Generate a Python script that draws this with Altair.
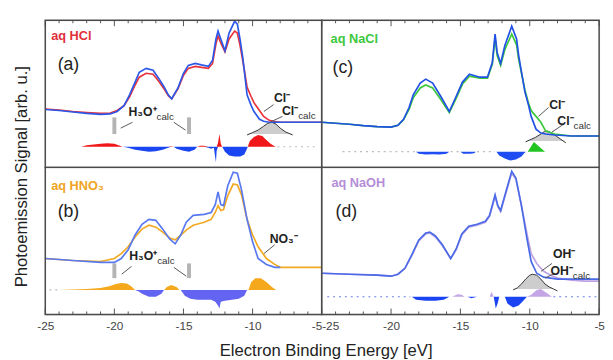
import altair as alt
import pandas as pd

FONT = "Liberation Sans"

# ---------------- panel (a) aq HCl ----------------
E_a = [-25, -24, -23, -22, -21, -20.3, -19.8, -19.3, -18.9, -18.5, -18.2, -17.7, -17.2, -16.8, -16.4, -16.1,
       -15.85, -15.4, -15.0, -14.65, -14.15, -13.7, -13.2, -12.9, -12.65, -12.5, -12.3, -12.0, -11.7, -11.3,
       -11.1, -10.9, -10.7, -10.4, -10.1, -9.9, -9.5, -9.2, -8.8, -8.5, -8.0, -7.0, -6.0, -5.0]
water_a = [59, 58, 56.5, 55, 54, 54.5, 57, 63, 74, 87, 97, 101, 99, 91, 82, 74, 70, 81, 96, 104, 106, 104.5,
           103, 109, 131, 139, 131, 119, 137, 149, 146, 130, 111, 74, 63, 57, 49, 47, 46, 46, 46, 46, 46, 46]
sol_a = [59.5, 58.5, 57, 56, 55, 55.5, 58, 63, 72, 84, 92, 96, 95, 88, 80, 73, 70, 80, 94, 101, 103, 102,
         101, 106, 126, 134, 127, 118, 131, 139, 137, 124, 108, 82, 72, 66, 58, 52, 48, 47, 46, 46, 46, 46]
diffE_a = [-22.4, -22, -21, -20.5, -20, -19.6, -19.4, -19.0, -18.5, -18, -17.5, -17, -16.5, -16.1, -15.9,
           -15.7, -15.5, -15, -14.6, -14.2, -14.0, -13.8, -13.5, -13.2, -13.0, -12.8, -12.75, -12.65, -12.6,
           -12.5, -12.4, -12.3, -12.2, -12.0, -11.7, -11.3, -10.9, -10.6, -10.4, -10.35, -10.2, -9.9, -9.6,
           -9.3, -9.0, -8.7, -8.4, -8.3]
diff_a = [0, 1.5, 3, 3.5, 3, 1, 0, -1, -3, -4, -5, -4.5, -3, -1, 0.5, 0, -2, -4, -5, -3, 0, 1, 1, -1, -2,
          -1, -6, -16, -4, 4, 13, 3, 0, -5, -9, -10, -10, -8, -2, 0, 6, 10, 12, 11, 7, 3, 0.5, 0]
base_a = 21
calcE_a = [-10.4, -10.0, -9.6, -9.2, -8.9, -8.6, -8.3, -8.0, -7.6, -7.1]
calc_a = [-1, 1.5, 4, 8, 11, 12, 10, 6, 2, -1]
calcbase_a = 34

# ---------------- panel (b) aq HNO3 ----------------
E_b = [-25, -23, -21, -20, -19.5, -19, -18.5, -18, -17.5, -17, -16.5, -16, -15.6, -15.2, -14.8, -14.3,
       -13.5, -13.0, -12.7, -12.5, -12.3, -12.1, -11.8, -11.4, -11.1, -10.8, -10.4, -10.0, -9.6, -9.0,
       -8.4, -8.0, -7.0, -6.0, -5.0]
water_b = [57, 55, 53, 53, 57, 66, 81, 92, 97, 96, 87, 77, 72, 81, 94, 101, 102, 104, 112, 125, 112, 111,
           131, 145, 144, 127, 97, 74, 57, 51, 48, 48, None, None, None]
sol_b = [57, 55, 54, 57, 62, 69, 79, 87, 91, 89, 84, 78, 76, 81, 86, 91, 94, 97, 104, 111, 106, 107, 121,
         133, 132, 122, 97, 81, 69, 57, 51, 48, 48, 48, 48]
diffE_b = [-24.0, -23, -22, -21, -20.3, -19.9, -19.5, -19.1, -18.8, -18.5, -18.2, -18, -17.5, -17, -16.6,
           -16.4, -16.2, -15.9, -15.5, -15.3, -15.2, -14.9, -14.5, -14, -13.5, -13.0, -12.7, -12.5, -12.4,
           -12.3, -12.0, -11.5, -11.0, -10.6, -10.4, -10.3, -10.1, -9.8, -9.4, -9.0, -8.6, -8.3]
diff_b = [0, 0.5, 1, 2, 4, 6, 7, 6.5, 4, 0, -2, -4, -7, -7, -4, 0, 3, 5, 3, 0, 0, -6, -9, -10, -10, -10,
          -12, -16, -19, -12, -11, -10, -9, -6, 0, 0, 8, 12, 12, 8, 3, 0]
base_b = 25

# ---------------- panel (c) aq NaCl ----------------
E_c = [-25, -24, -23, -22, -21, -20, -19.5, -19.1, -18.7, -18.4, -17.9, -17.5, -17.0, -16.4, -15.8, -15.35,
       -14.85, -14.35, -13.6, -13.05, -12.7, -12.5, -12.35, -12.1, -11.8, -11.3, -10.95, -10.8, -10.35,
       -10.1, -9.9, -9.55, -9.2, -8.85, -8.2, -7, -6, -5]
water_c = [46, 45, 44, 42.5, 41.5, 41, 43, 49, 61, 74, 86, 90, 86, 72, 57, 71, 87, 95, 92, 92, 107, 136, 117,
           106, 124, 144, 131, 114, 77, 64, 52, 39, 35, 34, 33, 32, 32, 32]
sol_c = [46, 45, 44, 42.5, 41.5, 41, 43, 48.5, 59, 71, 81, 84, 81, 69, 56, 69, 85, 93, 91, 91, 105, 132, 114,
         104, 120, 136, 125, 110, 79, 66, 58, 52, 46, 37, 34, 32, 32, 32]
diffE_c = [-18.2, -18.0, -17.5, -17.0, -16.5, -16.0, -15.8, -15.0, -14.8, -14.3, -14.0, -13.9, -12.4, -12.2,
           -11.8, -11.4, -11.0, -10.6, -10.3, -10.15, -9.7, -8.9]
diff_c = [0, -2, -3, -2.5, -3, -2, 0, 0, -2, -2, -1.5, 0, 0, -4, -7, -9, -8, -5, 0, 0, 10, 0]
base_c = 16
calcE_c = [-10.3, -10.0, -9.6, -9.2, -8.95, -8.7, -8.4, -8.1, -7.8, -7.4]
calc_c = [-1, 1, 3.5, 7, 9.5, 10, 8, 5, 2, -2]
calcbase_c = 27

# ---------------- panel (d) aq NaOH ----------------
E_d = [-25, -23, -21, -20, -19.5, -19, -18.5, -18, -17.5, -17.2, -16.8, -16.3, -15.7, -15.3, -14.9, -14.4,
       -13.8, -13.2, -12.9, -12.5, -12.3, -12.1, -11.8, -11.3, -11.0, -10.6, -10.2, -9.9, -9.5, -9.0, -8.5,
       -8.0, -7.0, -6.0, -5.0]
water_d = [42, 41, 40, 39, 41, 47, 61, 76, 83, 84, 80, 71, 57, 67, 82, 90, 92, 95, 101, 122, 111, 106, 121,
           146, 139, 111, 77, 54, 42, 38, 37, 36, 36, 36, 36]
sol_d = [42, 41, 40, 39, 41, 47, 60, 75, 82, 83, 79, 70, 57, 66, 81, 89, 91, 94, 100, 120, 110, 105, 120,
         144, 138, 111, 82, 62, 52, 44, 40, 37, 35, 34, 34]
diffE_d = [-18.5, -18.2, -17.5, -16.8, -16.2, -15.8, -15.6, -15.2, -14.9, -14.7, -14.5, -14.2, -13.8, -12.9,
           -12.75, -12.6, -12.45, -12.3, -12.2, -11.8, -11.6, -11.2, -10.8, -10.4, -10.2, -9.9, -9.5, -9.2,
           -8.8, -8.4]
diff_d = [0, -3, -4, -4, -3, 0, 0, 2.5, 2, 0, 0, -1.5, 0, 0, 5, 0, -12, -6, 0, 0, -7, -11, -9, -3, 0, 2, 7,
          8, 4, 0]
base_d = 18
calcE_d = [-11.2, -10.9, -10.6, -10.3, -10.0, -9.8, -9.5, -9.2, -8.9, -8.6, -8.3, -8.0]
calc_d = [-1, 1, 5, 10, 14, 15, 14, 10, 5, 2, 0, -2]
calcbase_d = 26

# faint (noisy, near-zero) stretches of the difference traces: (start, end)
faint_a = [(-8.2, -5.3)]
faint_b = [(-24.7, -24.1)]
faint_c = [(-23.5, -18.3), (-15.7, -15.1), (-13.8, -12.5)]
faint_d = [(-24.6, -18.6), (-8.3, -5.2)]

# H3O+ calc markers
barE = [-20.0, -14.6]

# tick positions and labels
major_ticks = [-25, -20, -15, -10, -5]
minor_ticks = [-24, -23, -22, -21, -19, -18, -17, -16, -14, -13, -12, -11, -9, -8, -7, -6]

XS = alt.Scale(domain=[-25, -5], nice=False, zero=False)
YS = alt.Scale(domain=[0, 150], nice=False, zero=False)
H = 150


def make_panel(p):
    top, left = p["top"], p["left"]
    width = 282 if left else 283
    if top:
        xaxis = None
    else:
        xaxis = alt.Axis(
            values=major_ticks, labelExpr="'-' + abs(datum.value)", ticks=False, domain=False, grid=False,
            labelPadding=6, labelFontSize=12, labelFont=FONT, labelColor="#444", labelFlush=False,
            labelOverlap=False,
            labelAlign={"condition": {"test": "datum.value == -5" if left else "datum.value == -25",
                                      "value": "right" if left else "left"}, "value": "center"},
            title="Electron Binding Energy [eV]" if left else None,
            titleFont=FONT, titleFontSize=17, titleFontWeight="normal", titleColor="#222",
            titleX=286, titleY=37, titleBaseline="middle", titleAlign="center",
        )
    if top and left:
        yaxis = alt.Axis(labels=False, ticks=False, domain=False, grid=False,
                         title="Photoemission Signal [arb. u.]", titleFont=FONT, titleFontSize=17,
                         titleFontWeight="normal", titleColor="#222", titleX=-24, titleY=159,
                         titleAngle=-90, titleBaseline="middle", titleAlign="center")
    else:
        yaxis = None

    X = alt.X("E:Q", scale=XS, axis=xaxis)

    def Y(f):
        return alt.Y(f + ":Q", scale=YS, axis=yaxis)

    layers = []
    # faint dotted parts of the difference trace
    fd = pd.DataFrame(p["faint"], columns=["E", "E2"])
    fd["base"] = p["base"]
    layers.append(alt.Chart(fd).mark_rule(color=p["faint_color"], strokeWidth=1.2, strokeDash=[2, 4]).encode(
        x=X, x2=alt.X2("E2:Q"), y=Y("base")))
    # difference spectrum
    dd = pd.DataFrame({"E": p["diffE"], "d": p["diff"]})
    dd["base"] = p["base"]
    dd["pos"] = p["base"] + dd["d"].clip(lower=0)
    dd["neg"] = p["base"] + dd["d"].clip(upper=0)
    layers.append(alt.Chart(dd).mark_area(color=p["neg_color"], opacity=1).encode(
        x=X, y=Y("neg"), y2=alt.Y2("base:Q")))
    layers.append(alt.Chart(dd).mark_area(color=p["pos_color"], opacity=1).encode(
        x=X, y=Y("pos"), y2=alt.Y2("base:Q")))
    # calculated anion peak
    if p.get("calcE"):
        cd = pd.DataFrame({"E": p["calcE"], "c": p["calc"]})
        cd["base"] = p["calcbase"]
        cd["cpos"] = p["calcbase"] + cd["c"].clip(lower=0)
        cd["cval"] = p["calcbase"] + cd["c"]
        layers.append(alt.Chart(cd).mark_area(color="#cdcdcd").encode(x=X, y=Y("cpos"), y2=alt.Y2("base:Q")))
        layers.append(alt.Chart(cd).mark_line(color="#333", strokeWidth=1).encode(x=X, y=Y("cval")))
    # H3O+ calc markers
    if p.get("bars"):
        bd = pd.DataFrame({"E": barE, "v1": p["bars"][0], "v2": p["bars"][1]})
        layers.append(alt.Chart(bd).mark_rule(color="#b4b4b4", strokeWidth=4).encode(
            x=X, y=Y("v1"), y2=alt.Y2("v2:Q")))
    # spectra
    sd = pd.DataFrame({"E": p["E"], "water": p["water"], "sol": p["sol"]})
    layers.append(alt.Chart(sd).mark_line(color=p["sol_color"], strokeWidth=1.7).encode(x=X, y=Y("sol")))
    layers.append(alt.Chart(sd).mark_line(color=p["water_color"], strokeWidth=1.7).encode(x=X, y=Y("water")))
    # leader lines
    ld = pd.DataFrame(p["leaders"], columns=["E", "v", "E2", "v2"])
    layers.append(alt.Chart(ld).mark_rule(color="#555", strokeWidth=1).encode(
        x=X, x2=alt.X2("E2:Q"), y=Y("v"), y2=alt.Y2("v2:Q")))
    # annotation texts
    for rows, align, size, weight, color in [
        (p["ann_left"], "left", 12.5, "bold", "#222"),
        (p["ann_right"], "right", 12.5, "bold", "#222"),
        (p["ann_sub"], "left", 10, "normal", "#333"),
        (p["letter"], "left", 18, "normal", "#222"),
        (p["label"], "left", 13, "bold", p["label_color"]),
    ]:
        if rows:
            td = pd.DataFrame(rows, columns=["text", "E", "v"])
            layers.append(alt.Chart(td).mark_text(align=align, baseline="middle", font=FONT, fontSize=size,
                                                  fontWeight=weight, color=color).encode(
                x=X, y=Y("v"), text="text:N"))
    # inward ticks
    y0 = 0 if top else H
    sgn = 1 if top else -1
    for vals, ln in [(major_ticks, 6), (minor_ticks, 3)]:
        kd = pd.DataFrame({"E": vals})
        layers.append(alt.Chart(kd).mark_rule(color="#555", strokeWidth=1).encode(
            x=X, y=alt.value(y0), y2=alt.value(y0 + sgn * ln)))
    # panel frame
    layers.append(alt.Chart(pd.DataFrame({"E": [0]})).mark_rect(
        fill="transparent", stroke="#4a4a4a", strokeWidth=1.5).encode(
        x=alt.value(0), x2=alt.value(width), y=alt.value(0), y2=alt.value(H)))
    return alt.layer(*layers).properties(width=width, height=H)


panels = {
    "a": dict(top=True, left=True, E=E_a, water=water_a, sol=sol_a, sol_color="#e8323c", water_color="#2c58e8",
              diffE=diffE_a, diff=diff_a, base=base_a, pos_color="#f01818", neg_color="#1a46f2",
              faint=faint_a, faint_color="#bbbbbb",
              calcE=calcE_a, calc=calc_a, calcbase=calcbase_a, bars=(34, 51),
              leaders=[(-19.54, 40, -18.69, 46), (-15.7, 46, -14.85, 38), (-9.18, 57, -8.48, 64),
                       (-8.76, 46, -7.84, 52)],
              ann_left=[("Cl\u207b", -8.45, 71)],
              ann_right=[("H\u2083O\u207a", -16.95, 56), ("Cl\u207b", -6.7, 57)],
              ann_sub=[("calc", -16.95, 51.5), ("calc", -6.7, 52.5)],
              letter=[("(a)", -24.1, 104)], label=[("aq HCl", -24.57, 134)], label_color="#e0303c"),
    "c": dict(top=True, left=False, E=E_c, water=water_c, sol=sol_c, sol_color="#3cc83c", water_color="#2050e4",
              diffE=diffE_c, diff=diff_c, base=base_c, pos_color="#22c422", neg_color="#1e4ef2",
              faint=faint_c, faint_color="#bbbbbb",
              calcE=calcE_c, calc=calc_c, calcbase=calcbase_c,
              leaders=[(-9.37, 52, -8.65, 61), (-8.4, 36, -7.56, 44)],
              ann_left=[("Cl\u207b", -8.6, 64)],
              ann_right=[("Cl\u207b", -6.84, 47)],
              ann_sub=[("calc", -6.84, 42.5)],
              letter=[("(c)", -24.22, 101)], label=[("aq NaCl", -24.36, 131)], label_color="#3cc83c"),
    "b": dict(top=False, left=True, E=E_b, water=water_b, sol=sol_b, sol_color="#f2aa22", water_color="#5878f0",
              diffE=diffE_b, diff=diff_b, base=base_b, pos_color="#f5a81c", neg_color="#6464f2",
              faint=faint_b, faint_color="#bbbbbb",
              bars=(37, 52),
              leaders=[(-19.47, 41, -18.76, 49), (-15.7, 48, -14.8, 39), (-9.18, 62, -8.4, 71)],
              ann_left=[("NO\u2083\u207b", -8.76, 77)],
              ann_right=[("H\u2083O\u207a", -16.9, 59)],
              ann_sub=[("calc", -16.9, 54.5)],
              letter=[("(b)", -24.1, 104)], label=[("aq HNO\u2083", -24.57, 131)], label_color="#f0a424"),
    "d": dict(top=False, left=False, E=E_d, water=water_d, sol=sol_d, sol_color="#bca2e4", water_color="#4a6ae8",
              diffE=diffE_d, diff=diff_d, base=base_d, pos_color="#c4a6e6", neg_color="#1a44f2",
              faint=faint_d, faint_color="#6a80e6",
              calcE=calcE_d, calc=calc_d, calcbase=calcbase_d,
              leaders=[(-9.18, 44, -8.4, 52), (-8.9, 37, -8.2, 42)],
              ann_left=[("OH\u207b", -8.32, 62)],
              ann_right=[("OH\u207b", -6.9, 44)],
              ann_sub=[("calc", -6.9, 39.5)],
              letter=[("(d)", -24.0, 104)], label=[("aq NaOH", -24.3, 134)], label_color="#b48ed8"),
}

chart = alt.concat(
    make_panel(panels["a"]), make_panel(panels["c"]),
    make_panel(panels["b"]), make_panel(panels["d"]),
    columns=2, spacing=0, bounds="flush",
).properties(
    padding={"left": 4, "top": 6, "right": 0, "bottom": 0},
).configure_view(strokeWidth=0).configure(background="white")

chart.save("out.html", embed_options={"renderer": "svg", "actions": False})
